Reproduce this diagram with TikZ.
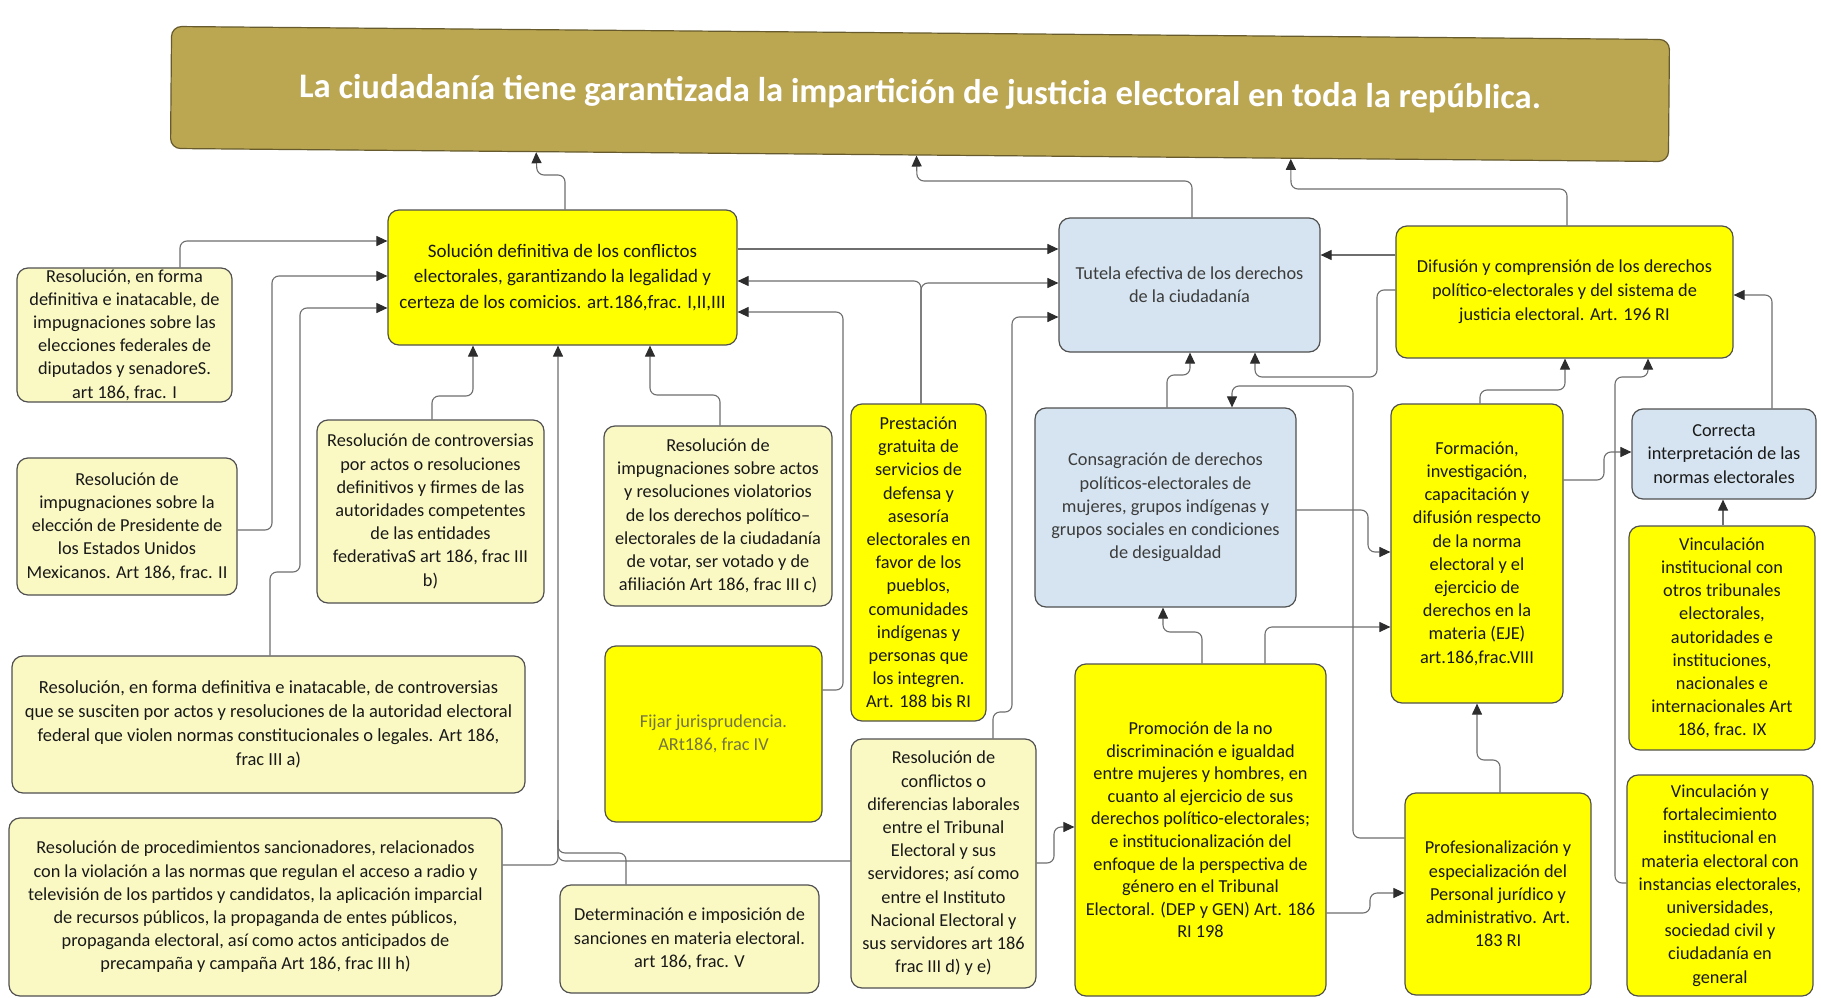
\documentclass[tikz,border=0pt]{standalone}
\usepackage{fontspec}
\setmainfont{Carlito}
\usetikzlibrary{arrows.meta,calc}
\definecolor{yel}{RGB}{255,255,0}
\definecolor{lyel}{RGB}{250,249,196}
\definecolor{lblue}{RGB}{213,228,240}
\definecolor{gold}{RGB}{187,166,82}
\definecolor{bord}{RGB}{80,80,80}
\definecolor{lin}{RGB}{110,110,110}
\definecolor{tipc}{RGB}{45,45,45}
\definecolor{txt}{RGB}{25,25,25}
\definecolor{dimtxt}{RGB}{60,60,60}
\definecolor{fijtxt}{RGB}{115,115,70}
\pgfdeclarelayer{bg}
\pgfsetlayers{bg,main}
\tikzset{
  box/.style={draw=bord, line width=1.2pt, rounded corners=11pt, align=center, inner sep=0pt, text=txt,
    font=\fontsize{18.3}{23.2}\selectfont},
  ly/.style={box, fill=lyel},
  yb/.style={box, fill=yel},
  bb/.style={box, fill=lblue, text=dimtxt},
  conn/.style={draw=lin, line width=1.1pt, rounded corners=7pt},
  arr/.style={conn, -{Triangle[length=11pt,width=10pt,color=tipc]}}
}
\begin{document}
\begin{tikzpicture}[x=1pt,y=-1pt]
\useasboundingbox (0,0) rectangle (1821,998);
\begin{pgfonlayer}{bg}
\fill[white] (0,0) rectangle (1821,998);
\end{pgfonlayer}

% title
\node[draw=gold!55!black, line width=1.2pt, fill=gold, rounded corners=10pt, rotate=-0.5,
  minimum width=1498, minimum height=122, inner sep=0pt, text=white,
  font=\fontsize{34.5}{40}\selectfont\bfseries] (title) at (920,94)
  {La ciudadanía tiene garantizada la impartición de justicia electoral en toda la república.};
\coordinate (t1) at ($(title.south west)!0.2443!(title.south east)$);
\coordinate (t2) at ($(title.south west)!0.4980!(title.south east)$);
\coordinate (t3) at ($(title.south west)!0.7477!(title.south east)$);

% nodes
\node[ly, minimum width=215, minimum height=134] (n1) at (124.5,335)
  {Resolución, en forma\\definitiva e inatacable, de\\impugnaciones sobre las\\elecciones federales de\\diputados y senadoreS.\\art 186, frac. I};
\node[ly, minimum width=220, minimum height=137] (n2) at (127,526.5)
  {Resolución de\\impugnaciones sobre la\\elección de Presidente de\\los Estados Unidos\\Mexicanos. Art 186, frac. II};
\node[yb, minimum width=349, minimum height=135, font=\fontsize{19}{25.5}\selectfont] (n3) at (562.5,277.5)
  {Solución definitiva de los conflictos\\electorales, garantizando la legalidad y\\certeza de los comicios. art.186,frac. I,II,III};
\node[bb, minimum width=261, minimum height=134] (n4) at (1189.5,285)
  {Tutela efectiva de los derechos\\de la ciudadanía};
\node[yb, minimum width=337, minimum height=132, font=\fontsize{18.3}{24}\selectfont] (n5) at (1564.5,292)
  {Difusión y comprensión de los derechos\\político-electorales y del sistema de\\justicia electoral. Art. 196 RI};
\node[ly, minimum width=227, minimum height=183] (n6) at (430.5,511.5)
  {Resolución de controversias\\por actos o resoluciones\\definitivos y firmes de las\\autoridades competentes\\de las entidades\\federativaS art 186, frac III\\b)};
\node[ly, minimum width=228, minimum height=180] (n7) at (718,516)
  {Resolución de\\impugnaciones sobre actos\\y resoluciones violatorios\\de los derechos político–\\electorales de la ciudadanía\\de votar, ser votado y de\\afiliación Art 186, frac III c)};
\node[yb, minimum width=135, minimum height=317] (n8) at (918.5,562.5)
  {Prestación\\gratuita de\\servicios de\\defensa y\\asesoría\\electorales en\\favor de los\\pueblos,\\comunidades\\indígenas y\\personas que\\los integren.\\Art. 188 bis RI};
\node[bb, minimum width=261, minimum height=199] (n9) at (1165.5,507.5)
  {Consagración de derechos\\políticos-electorales de\\mujeres, grupos indígenas y\\grupos sociales en condiciones\\de desigualdad};
\node[yb, minimum width=172, minimum height=299] (n10) at (1477,553.5)
  {Formación,\\investigación,\\capacitación y\\difusión respecto\\de la norma\\electoral y el\\ejercicio de\\derechos en la\\materia (EJE)\\art.186,frac.VIII};
\node[bb, minimum width=184, minimum height=90, text=txt] (n11) at (1724,454)
  {Correcta\\interpretación de las\\normas electorales};
\node[yb, minimum width=186, minimum height=224] (n12) at (1722,638)
  {Vinculación\\institucional con\\otros tribunales\\electorales,\\autoridades e\\instituciones,\\nacionales e\\internacionales Art\\186, frac. IX};
\node[ly, minimum width=513, minimum height=137, font=\fontsize{18.5}{24}\selectfont] (n13) at (268.5,724.5)
  {Resolución, en forma definitiva e inatacable, de controversias\\que se susciten por actos y resoluciones de la autoridad electoral\\federal que violen normas constitucionales o legales. Art 186,\\frac III a)};
\node[yb, minimum width=217, minimum height=176, text=fijtxt] (n14) at (713.5,734)
  {Fijar jurisprudencia.\\ARt186, frac IV};
\node[ly, minimum width=185, minimum height=249] (n15) at (943.5,863.5)
  {Resolución de\\conflictos o\\diferencias laborales\\entre el Tribunal\\Electoral y sus\\servidores; así como\\entre el Instituto\\Nacional Electoral y\\sus servidores art 186\\frac III d) y e)};
\node[yb, minimum width=251, minimum height=332, font=\fontsize{18.3}{22.6}\selectfont] (n16) at (1200.5,830)
  {Promoción de la no\\discriminación e igualdad\\entre mujeres y hombres, en\\cuanto al ejercicio de sus\\derechos político-electorales;\\e institucionalización del\\enfoque de la perspectiva de\\género en el Tribunal\\Electoral. (DEP y GEN) Art. 186\\RI 198};
\node[ly, minimum width=493, minimum height=178] (n17) at (255.5,907)
  {Resolución de procedimientos sancionadores, relacionados\\con la violación a las normas que regulan el acceso a radio y\\televisión de los partidos y candidatos, la aplicación imparcial\\de recursos públicos, la propaganda de entes públicos,\\propaganda electoral, así como actos anticipados de\\precampaña y campaña Art 186, frac III h)};
\node[ly, minimum width=259, minimum height=108] (n18) at (689.5,939)
  {Determinación e imposición de\\sanciones en materia electoral.\\art 186, frac. V};
\node[yb, minimum width=186, minimum height=202] (n19) at (1498,894)
  {Profesionalización y\\especialización del\\Personal jurídico y\\administrativo. Art.\\183 RI};
\node[yb, minimum width=186, minimum height=221] (n20) at (1720,885.5)
  {Vinculación y\\fortalecimiento\\institucional en\\materia electoral con\\instancias electorales,\\universidades,\\sociedad civil y\\ciudadanía en\\general};

% connectors
\begin{pgfonlayer}{bg}
\draw[arr] (n3.north -| 565,0) -- (565,175) -- (537,175) -- (t1);
\draw[arr] (n4.north -| 1192,0) -- (1192,181) -- (917,181) -- (t2);
\draw[arr] (n5.north -| 1567,0) -- (1567,189) -- (1291,189) -- (t3);

\draw[arr] (n1.north -| 180,0) -- (180,241) -- (n3.west |- 0,241);
\draw[arr] (n2.east |- 0,530) -- (272,530) -- (272,276) -- (n3.west |- 0,276);
\draw[arr] (n13.north -| 270,0) -- (270,572) -- (300,572) -- (300,308) -- (n3.west |- 0,308);

\draw[arr] (n6.north -| 432,0) -- (432,396) -- (473,396) -- (n3.south -| 473,0);
\draw[arr] (n7.north -| 720,0) -- (720,395) -- (650,395) -- (n3.south -| 650,0);
\draw[arr] (n17.east |- 0,865) -- (558,865) -- (n3.south -| 558,0);
\draw[conn] (n18.north -| 626,0) -- (626,853) -- (558,853) -- (558,820);
\draw[conn] (n15.west |- 0,861) -- (558,861) -- (558,830);
\draw[arr] (n15.east |- 0,863) -- (1054,863) -- (1054,827) -- (n16.west |- 0,827);

\draw[arr] (n14.east |- 0,690) -- (843,690) -- (843,312) -- (n3.east |- 0,312);
\draw[arr] (n8.north -| 921,0) -- (921,281) -- (n3.east |- 0,281);
\draw[arr] (n8.north -| 921,0) -- (921,283) -- (n4.west |- 0,283);
\draw[arr] (n3.east |- 0,249) -- (n4.west |- 0,249);
\draw[arr] (n15.north -| 993,0) -- (993,712) -- (1012,712) -- (1012,317) -- (n4.west |- 0,317);

\draw[arr] (n5.west |- 0,255) -- (n4.east |- 0,255);
\draw[arr] (n5.west |- 0,290) -- (1377,290) -- (1377,377) -- (1255,377) -- (n4.south -| 1255,0);
\draw[arr] (n9.north -| 1167,0) -- (1167,375) -- (1190,375) -- (n4.south -| 1190,0);
\draw[arr] (n19.west |- 0,838) -- (1353,838) -- (1353,386) -- (1232,386) -- (n9.north -| 1232,0);
\draw[arr] (n9.east |- 0,510) -- (1368,510) -- (1368,552) -- (n10.west |- 0,552);
\draw[arr] (n16.north -| 1202,0) -- (1202,632) -- (1163,632) -- (n9.south -| 1163,0);
\draw[arr] (n16.north -| 1265,0) -- (1265,627) -- (n10.west |- 0,627);
\draw[arr] (n16.east |- 0,913) -- (1370,913) -- (1370,893) -- (n19.west |- 0,893);

\draw[arr] (n10.north -| 1480,0) -- (1480,390) -- (1565,390) -- (n5.south -| 1565,0);
\draw[arr] (n20.west |- 0,883) -- (1615,883) -- (1615,377) -- (1648,377) -- (n5.south -| 1648,0);
\draw[arr] (n10.east |- 0,480) -- (1604,480) -- (1604,452) -- (n11.west |- 0,452);
\draw[arr] (n11.north -| 1772,0) -- (1772,295) -- (n5.east |- 0,295);
\draw[arr] (n12.north -| 1723,0) -- (n11.south -| 1723,0);
\draw[arr] (n19.north -| 1500,0) -- (1500,760) -- (1477,760) -- (n10.south -| 1477,0);
\end{pgfonlayer}
\end{tikzpicture}
\end{document}
